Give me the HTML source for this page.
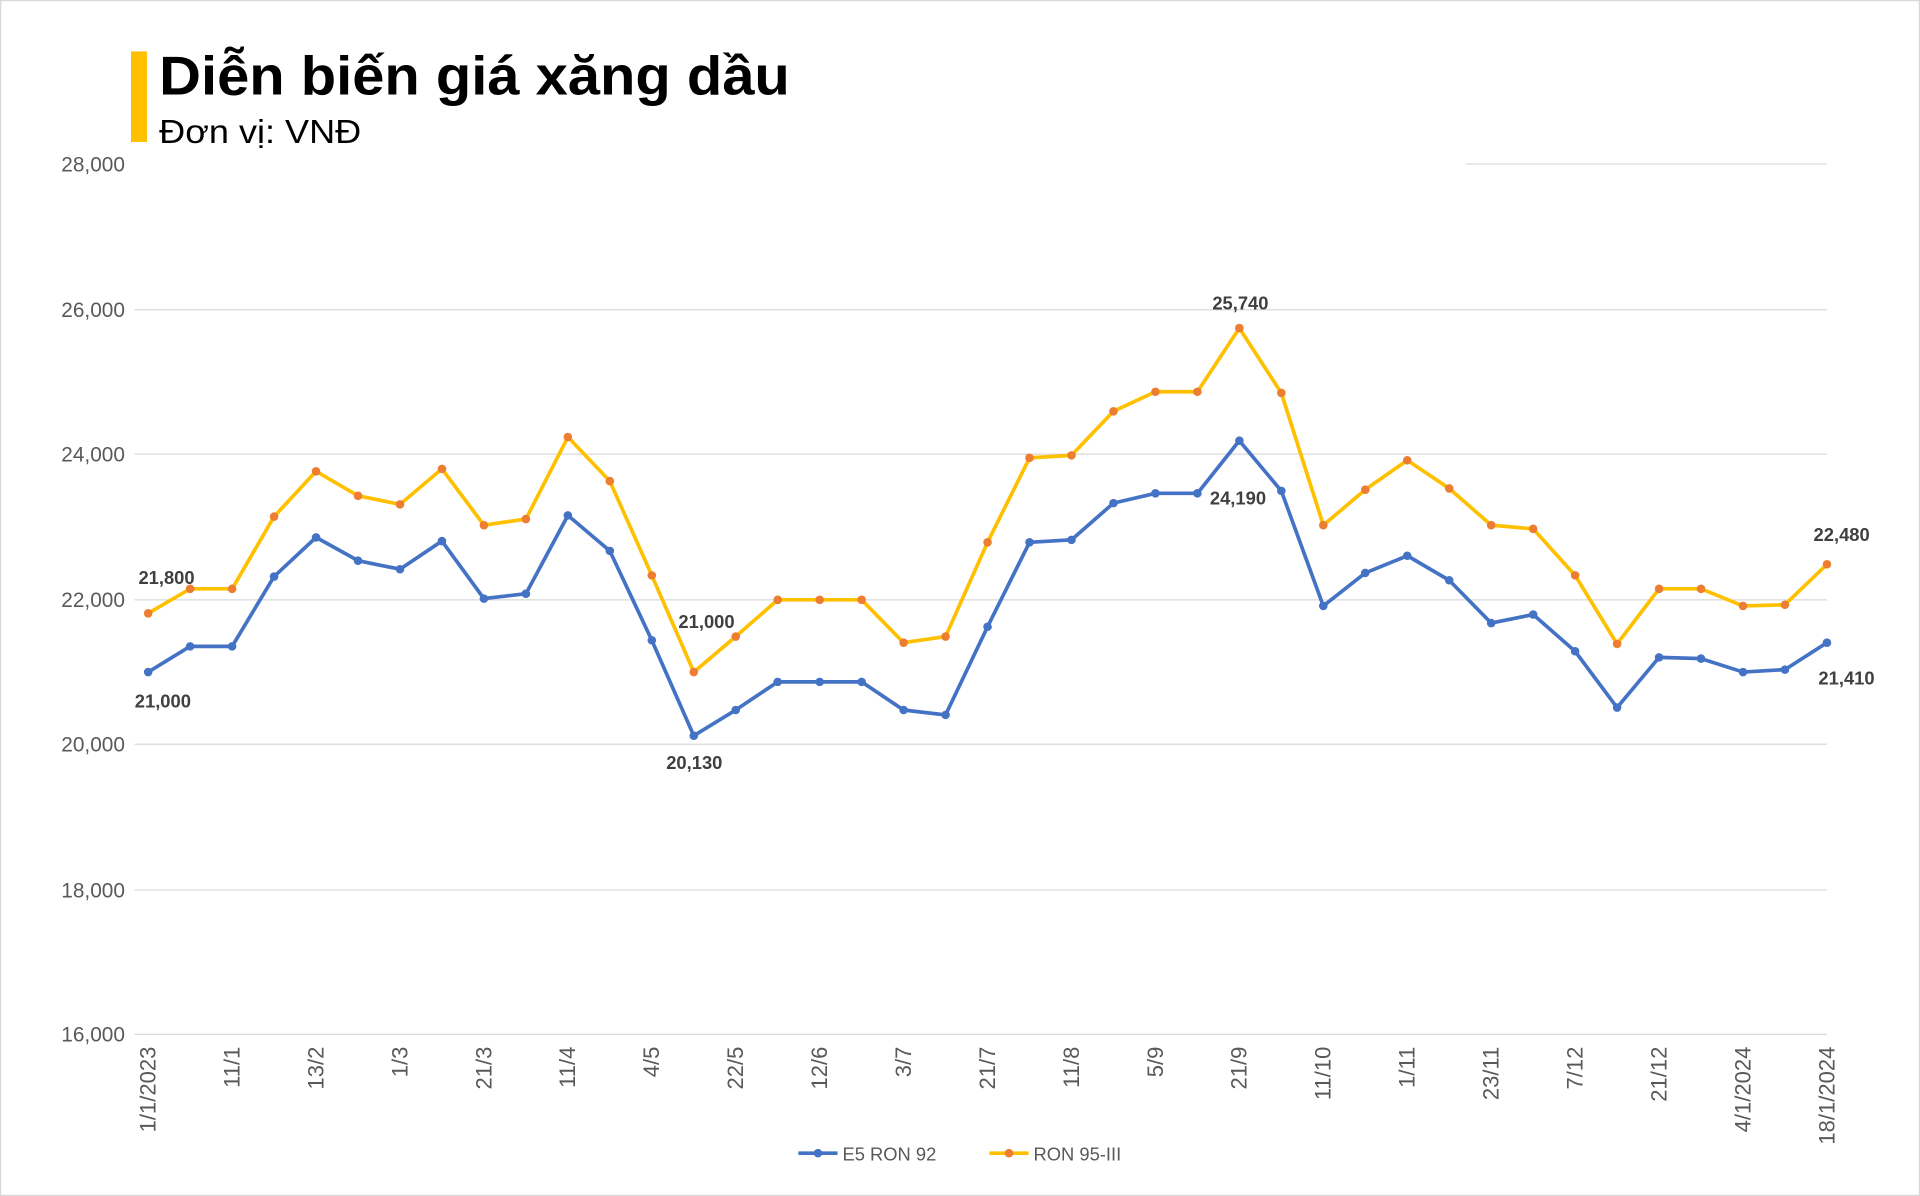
<!DOCTYPE html>
<html><head><meta charset="utf-8"><style>
html,body{margin:0;padding:0;background:#fff}
svg{display:block}
text{font-family:"Liberation Sans",sans-serif}
</style></head><body>
<svg id="s" width="1920" height="1196" viewBox="0 0 1568 977" preserveAspectRatio="none" xmlns="http://www.w3.org/2000/svg">
<rect x="0.5" y="0.5" width="1567" height="976" fill="#fff" stroke="#d9d9d9"/>
<rect x="107" y="42" width="13" height="74" fill="#ffc000"/>
<text x="130" y="77" font-size="45" font-weight="bold" fill="#000" textLength="515" lengthAdjust="spacingAndGlyphs">Diễn biến giá xăng dầu</text>
<text x="130" y="117" font-size="27" fill="#000" textLength="165" lengthAdjust="spacingAndGlyphs">Đơn vị: VNĐ</text>
<g stroke="#d9d9d9" stroke-width="1">
<line x1="1197" x2="1492" y1="134" y2="134"/>
<line x1="110" x2="1492" y1="253" y2="253"/>
<line x1="110" x2="1492" y1="371" y2="371"/>
<line x1="110" x2="1492" y1="490" y2="490"/>
<line x1="110" x2="1492" y1="608" y2="608"/>
<line x1="110" x2="1492" y1="727" y2="727"/>
<line x1="110" x2="1492" y1="845" y2="845"/>
</g>
<g font-size="17" fill="#595959" text-anchor="end">
<text x="102" y="140">28,000</text><text x="102" y="259">26,000</text><text x="102" y="377">24,000</text>
<text x="102" y="496">22,000</text><text x="102" y="614">20,000</text><text x="102" y="733">18,000</text><text x="102" y="851">16,000</text>
</g>
<g id="xl" font-size="18" fill="#595959" text-anchor="end"></g>
<g id="series"></g>
<g font-size="15" font-weight="bold" fill="#404040" text-anchor="middle">
<text x="136" y="477">21,800</text><text x="133" y="578">21,000</text>
<text x="577" y="513">21,000</text><text x="567" y="628">20,130</text>
<text x="1013" y="253">25,740</text><text x="1011" y="412">24,190</text>
<text x="1504" y="442">22,480</text><text x="1508" y="559">21,410</text>
</g>
<line x1="652" x2="684" y1="942" y2="942" stroke="#4472c4" stroke-width="3"/><circle cx="668" cy="942" r="3.5" fill="#4472c4"/>
<text x="688" y="948" font-size="15" fill="#595959">E5 RON 92</text>
<line x1="808" x2="840" y1="942" y2="942" stroke="#ffc000" stroke-width="3"/><circle cx="824" cy="942" r="3.5" fill="#ed7d31"/>
<text x="844" y="948" font-size="15" fill="#595959">RON 95-III</text>
</svg>
<script>
var e=[549,528,528,471,439,458,465,442,489,485,421,450,523,601,580,557,557,557,580,584,512,443,441,411,403,403,360,401,495,468,454,474,509,502,532,578,537,538,549,547,525];
var r=[501,481,481,422,385,405,412,383,429,424,357,393,470,549,520,490,490,490,525,520,443,374,372,336,320,320,268,321,429,400,376,399,429,432,470,526,481,481,495,494,461];
var NS="http://www.w3.org/2000/svg",g=document.getElementById("series");
function X(i){return 121+i*34.275}
function draw(a,lc,dc){var p=a.map(function(y,i){return X(i).toFixed(1)+","+y}).join(" ");
var pl=document.createElementNS(NS,"polyline");pl.setAttribute("points",p);pl.setAttribute("fill","none");pl.setAttribute("stroke",lc);pl.setAttribute("stroke-width","3");pl.setAttribute("stroke-linejoin","round");g.appendChild(pl);
a.forEach(function(y,i){var c=document.createElementNS(NS,"circle");c.setAttribute("cx",X(i));c.setAttribute("cy",y);c.setAttribute("r","3.5");c.setAttribute("fill",dc);g.appendChild(c);});}
draw(e,"#4472c4","#4472c4");draw(r,"#ffc000","#ed7d31");
var L=["1/1/2023","11/1","13/2","1/3","21/3","11/4","4/5","22/5","12/6","3/7","21/7","11/8","5/9","21/9","11/10","1/11","23/11","7/12","21/12","4/1/2024","18/1/2024"];
var xl=document.getElementById("xl");
L.forEach(function(t,k){var x=X(k*2)+6;var tx=document.createElementNS(NS,"text");tx.setAttribute("transform","translate("+x+",855) rotate(-90)");tx.textContent=t;xl.appendChild(tx);});
</script>
</body></html>
